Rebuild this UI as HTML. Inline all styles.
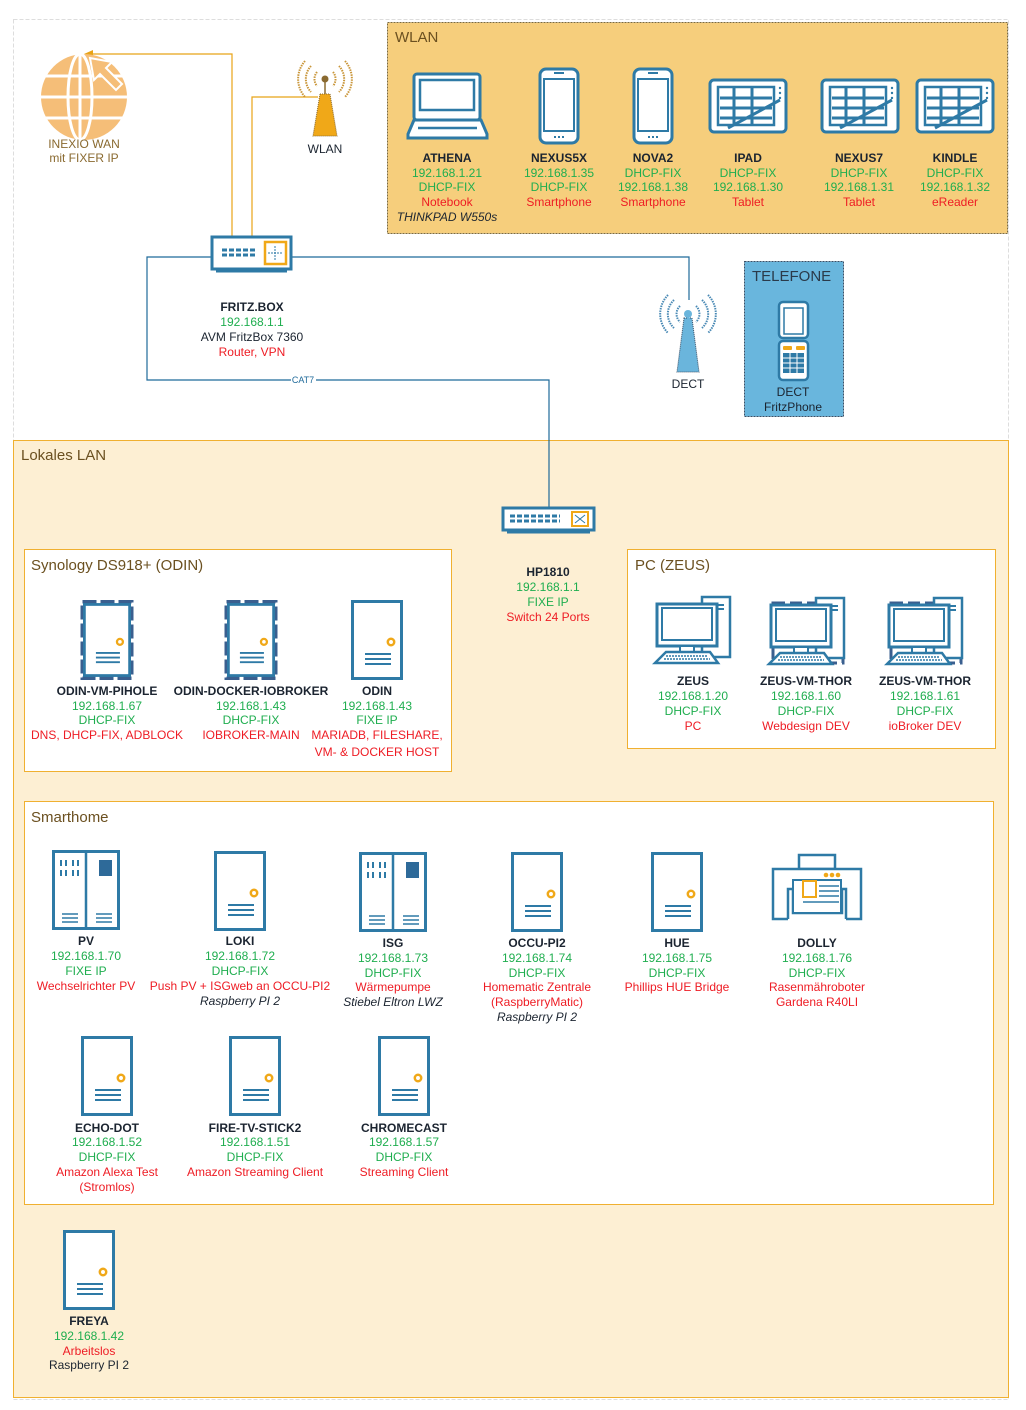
<!DOCTYPE html>
<html><head><meta charset="utf-8"><style>
html,body{margin:0;padding:0;background:#fff}
svg{display:block}
text{font-family:"Liberation Sans",sans-serif;font-size:12px;text-anchor:middle}
.b{font-weight:bold;fill:#1b2430}
.g{fill:#1fae4f}
.r{fill:#ee1c24}
.k{fill:#1b2430}
.i{font-style:italic;fill:#1b2430}
.t{text-anchor:start;font-size:15px;fill:#6b5020}
</style></head><body>
<svg width="1026" height="1410" viewBox="0 0 1026 1410" xmlns="http://www.w3.org/2000/svg">
<defs>
<symbol id="srv" viewBox="0 0 52 80"><rect x="1.5" y="1.5" width="49" height="77" fill="#fff" stroke="#2e7aa6" stroke-width="3"/><circle cx="40" cy="42" r="3.2" fill="#fff" stroke="#f0a818" stroke-width="2.5"/><path d="M14 54h26M14 59h26M14 64h26" stroke="#2e7aa6" stroke-width="2"/></symbol>
<symbol id="dsrv" viewBox="0 0 68 80"><rect x="1.5" y="1.5" width="65" height="77" fill="#fff" stroke="#2e7aa6" stroke-width="3"/><path d="M34 2v77" stroke="#2e7aa6" stroke-width="2.5"/><path d="M9 10v6M14 10v6M21 10v6M26 10v6M9 20v6M14 20v6M21 20v6M26 20v6" stroke="#2e7aa6" stroke-width="2"/><rect x="47" y="10" width="13" height="16" fill="#2e6a99"/><path d="M10 64h16M10 68h16M10 72h16M44 64h16M44 68h16M44 72h16" stroke="#2e7aa6" stroke-width="1.5"/></symbol>
<symbol id="pc" viewBox="0 0 82 70"><rect x="50" y="2" width="28" height="60" fill="#fff" stroke="#2e7aa6" stroke-width="2.5"/><path d="M66 10h6M66 14h6" stroke="#2e7aa6" stroke-width="2"/><rect x="5" y="9" width="60" height="42" fill="#fff" stroke="#2e7aa6" stroke-width="3"/><rect x="10" y="13" width="50" height="32" fill="#fff" stroke="#2e7aa6" stroke-width="2"/><rect x="28" y="51" width="14" height="6" fill="#fff" stroke="#2e7aa6" stroke-width="2"/><path d="M14 57h44l8 11H3z" fill="#fff" stroke="#2e7aa6" stroke-width="2.5"/><path d="M14 61h42M12 64h46" stroke="#2e7aa6" stroke-width="1.5" stroke-dasharray="2 1"/></symbol>
<symbol id="tab" viewBox="0 0 80 56"><rect x="2" y="2" width="76" height="52" rx="4" fill="#fff" stroke="#2e7aa6" stroke-width="3"/><rect x="10" y="9" width="56" height="38" fill="#fff" stroke="#2e7aa6" stroke-width="2.5"/><path d="M12 20h52M12 30h52M12 40h52M26 10v36M44 10v36" stroke="#2e7aa6" stroke-width="3"/><path d="M20 50L72 22" stroke="#2e7aa6" stroke-width="3"/><circle cx="72" cy="10" r="1.2" fill="#2e7aa6"/><circle cx="72" cy="15" r="1.2" fill="#2e7aa6"/><circle cx="72" cy="20" r="1.2" fill="#2e7aa6"/></symbol>
<symbol id="ph" viewBox="0 0 42 78"><rect x="2" y="2" width="38" height="74" rx="6" fill="#fff" stroke="#2e7aa6" stroke-width="3"/><rect x="6" y="12" width="30" height="52" fill="#fff" stroke="#2e7aa6" stroke-width="2"/><path d="M16 6h10" stroke="#2e7aa6" stroke-width="2"/><path d="M16 70h2M20 70h2M24 70h2" stroke="#2e7aa6" stroke-width="2"/></symbol>
<symbol id="vm" viewBox="0 0 52 80"><rect x="1.5" y="1.5" width="49" height="77" fill="none" stroke="#3a5f8f" stroke-width="4" stroke-dasharray="14 4"/></symbol>
</defs>

<!-- outer -->
<rect x="13.5" y="19.5" width="995" height="1380" fill="#fff" stroke="#ddd" stroke-dasharray="4 2"/>
<!-- LAN -->
<rect x="13.5" y="440.5" width="995" height="957" fill="#fdefd3" stroke="#f0b030"/>
<text class="t" x="21" y="460">Lokales LAN</text>
<!-- WLAN box -->
<rect x="387.5" y="22.5" width="620" height="211" fill="#f6ce7c" stroke="#7a6a40" stroke-dasharray="2 1"/>
<text class="t" x="395" y="42">WLAN</text>
<!-- TELEFONE -->
<rect x="744.5" y="261.5" width="99" height="155" fill="#69b6dd" stroke="#3a4f66" stroke-dasharray="2 1"/>
<text class="t" x="752" y="281" style="fill:#2a3a4a">TELEFONE</text>
<!-- groups -->
<rect x="24.5" y="549.5" width="427" height="222" fill="#fff" stroke="#f0b030"/>
<text class="t" x="31" y="570">Synology DS918+ (ODIN)</text>
<rect x="627.5" y="549.5" width="368" height="199" fill="#fff" stroke="#f0b030"/>
<text class="t" x="635" y="570">PC (ZEUS)</text>
<rect x="24.5" y="801.5" width="969" height="403" fill="#fff" stroke="#f0b030"/>
<text class="t" x="31" y="822">Smarthome</text>

<!-- connectors -->
<path d="M232 237V54H92" fill="none" stroke="#e8a317" stroke-width="1.2"/>
<path d="M84 54l9 -4v8z" fill="#e8a317"/>
<path d="M252 237V97H318" fill="none" stroke="#e8a317" stroke-width="1.2"/>
<path d="M291 257H689V300" fill="none" stroke="#1f6a9a" stroke-width="1.2"/>
<path d="M212 257H147V380H549V508" fill="none" stroke="#1f6a9a" stroke-width="1.2"/>
<rect x="291" y="375" width="25" height="10" fill="#fff"/>
<text x="303" y="383" style="font-size:9px;fill:#1f6a9a">CAT7</text>

<!-- globe -->
<g fill="#f5be78">
<circle cx="84" cy="97" r="43"/>
</g>
<g stroke="#fff" stroke-width="3" fill="none">
<ellipse cx="80" cy="97" rx="12" ry="43"/>
<path d="M80 54v86M42 76h84M40 97h88M42 118h84"/>
</g>
<path d="M90 58l4 22 6-6 16 16 6-6-16-16 6-6z" fill="#f5be78" stroke="#fff" stroke-width="2"/>
<text x="84" y="148" style="fill:#8a6a30">INEXIO WAN</text>
<text x="84" y="162" style="fill:#8a6a30">mit FIXER IP</text>

<!-- WLAN tower -->
<path d="M320 94h10l7 42h-24z" fill="#f0a818" stroke="#8a6a30" stroke-width="1" stroke-dasharray="1 1"/>
<circle cx="325" cy="79" r="3.5" fill="#8a6a30"/><path d="M325 82v12" stroke="#8a6a30" stroke-width="1.5"/>
<g fill="none" stroke="#c9963a" stroke-width="2" stroke-dasharray="1.5 1">
<path d="M317 72a11 11 0 0 0 0 14M333 72a11 11 0 0 1 0 14M311 66a19 19 0 0 0 0 26M339 66a19 19 0 0 1 0 26M305 61a27 27 0 0 0 0 36M345 61a27 27 0 0 1 0 36"/>
</g>
<text class="k" x="325" y="153">WLAN</text>

<!-- DECT tower -->
<path d="M684 318h8l7 54h-22z" fill="#6ab5dc" stroke="#3a4f66" stroke-width="1" stroke-dasharray="1 1"/>
<circle cx="688" cy="314" r="4" fill="#6ab5dc"/><path d="M688 317v5" stroke="#6ab5dc" stroke-width="2"/>
<g fill="none" stroke="#4a8ab5" stroke-width="2" stroke-dasharray="1.5 1">
<path d="M680 306a11 11 0 0 0 0 16M696 306a11 11 0 0 1 0 16M674 300a19 19 0 0 0 0 28M702 300a19 19 0 0 1 0 28M668 295a27 27 0 0 0 0 38M708 295a27 27 0 0 1 0 38"/>
</g>
<text class="k" x="688" y="388">DECT</text>

<!-- DECT phone -->
<rect x="779" y="302" width="29" height="36" rx="4" fill="#fff" stroke="#2e7aa6" stroke-width="2.5"/>
<rect x="784" y="308" width="19" height="26" fill="#fff" stroke="#2e7aa6" stroke-width="1.5"/>
<rect x="779" y="341" width="29" height="39" rx="4" fill="#fff" stroke="#2e7aa6" stroke-width="2.5"/>
<rect x="783" y="346" width="9" height="4" rx="1" fill="#f0a818"/><rect x="796" y="346" width="9" height="4" rx="1" fill="#f0a818"/>
<g fill="#2e7aa6"><rect x="783" y="353" width="21" height="20"/></g>
<path d="M783 358h21M783 363h21M783 368h21M790 353v20M797 353v20" stroke="#fff" stroke-width="1"/>
<text class="k" x="793" y="396">DECT</text>
<text class="k" x="793" y="411">FritzPhone</text>

<!-- fritzbox -->
<rect x="212" y="237" width="79" height="32" fill="#fff" stroke="#2e7aa6" stroke-width="3"/>
<path d="M216 271h71" stroke="#2e7aa6" stroke-width="3"/>
<path d="M222 250h34M222 255h34" stroke="#2e7aa6" stroke-width="3" stroke-dasharray="5 2"/>
<rect x="265" y="242" width="21" height="22" fill="#fff" stroke="#f0a818" stroke-width="2.5"/>
<path d="M275 246v14M268 253h14" stroke="#2e7aa6" stroke-width="1" stroke-dasharray="2 1"/>
<text class="b" x="252" y="311">FRITZ.BOX</text>
<text class="g" x="252" y="326">192.168.1.1</text>
<text class="k" x="252" y="341">AVM FritzBox 7360</text>
<text class="r" x="252" y="356">Router, VPN</text>

<!-- HP switch -->
<rect x="503" y="508" width="91" height="22" fill="#fff" stroke="#2e7aa6" stroke-width="3"/>
<path d="M507 532h83" stroke="#2e7aa6" stroke-width="3"/>
<path d="M510 516h50M510 521h50" stroke="#2e7aa6" stroke-width="3" stroke-dasharray="5 2"/>
<rect x="572" y="512" width="16" height="14" fill="#fff" stroke="#f0a818" stroke-width="2"/>
<path d="M575 515l10 8M585 515l-10 8" stroke="#2e7aa6" stroke-width="1"/>
<text class="b" x="548" y="576">HP1810</text>
<text class="g" x="548" y="591">192.168.1.1</text>
<text class="g" x="548" y="606">FIXE IP</text>
<text class="r" x="548" y="621">Switch 24 Ports</text>

<!-- laptop -->
<rect x="414" y="74" width="66" height="46" rx="3" fill="#fff" stroke="#2e7aa6" stroke-width="3"/>
<rect x="420" y="80" width="54" height="30" fill="#fff" stroke="#2e7aa6" stroke-width="2.5"/>
<path d="M414 120l-6 14v4h79v-4l-6-14z" fill="#fff" stroke="#2e7aa6" stroke-width="3"/>
<path d="M418 128h59" stroke="#2e7aa6" stroke-width="2.5"/>
<text class="b" x="447" y="162">ATHENA</text>
<text class="g" x="447" y="177">192.168.1.21</text>
<text class="g" x="447" y="191">DHCP-FIX</text>
<text class="r" x="447" y="206">Notebook</text>
<text class="i" x="447" y="221">THINKPAD W550s</text>

<use href="#ph" x="538" y="67" width="42" height="78"/>
<text class="b" x="559" y="162">NEXUS5X</text>
<text class="g" x="559" y="177">192.168.1.35</text>
<text class="g" x="559" y="191">DHCP-FIX</text>
<text class="r" x="559" y="206">Smartphone</text>

<use href="#ph" x="632" y="67" width="42" height="78"/>
<text class="b" x="653" y="162">NOVA2</text>
<text class="g" x="653" y="177">DHCP-FIX</text>
<text class="g" x="653" y="191">192.168.1.38</text>
<text class="r" x="653" y="206">Smartphone</text>

<use href="#tab" x="708" y="78" width="80" height="56"/>
<text class="b" x="748" y="162">IPAD</text>
<text class="g" x="748" y="177">DHCP-FIX</text>
<text class="g" x="748" y="191">192.168.1.30</text>
<text class="r" x="748" y="206">Tablet</text>

<use href="#tab" x="820" y="78" width="80" height="56"/>
<text class="b" x="859" y="162">NEXUS7</text>
<text class="g" x="859" y="177">DHCP-FIX</text>
<text class="g" x="859" y="191">192.168.1.31</text>
<text class="r" x="859" y="206">Tablet</text>

<use href="#tab" x="915" y="78" width="80" height="56"/>
<text class="b" x="955" y="162">KINDLE</text>
<text class="g" x="955" y="177">DHCP-FIX</text>
<text class="g" x="955" y="191">192.168.1.32</text>
<text class="r" x="955" y="206">eReader</text>

<!-- Synology -->
<use href="#vm" x="80" y="600" width="54" height="80"/>
<use href="#srv" x="83" y="603" width="48" height="74"/>
<text class="b" x="107" y="695">ODIN-VM-PIHOLE</text>
<text class="g" x="107" y="710">192.168.1.67</text>
<text class="g" x="107" y="724">DHCP-FIX</text>
<text class="r" x="107" y="739">DNS, DHCP-FIX, ADBLOCK</text>

<use href="#vm" x="224" y="600" width="54" height="80"/>
<use href="#srv" x="227" y="603" width="48" height="74"/>
<text class="b" x="251" y="695">ODIN-DOCKER-IOBROKER</text>
<text class="g" x="251" y="710">192.168.1.43</text>
<text class="g" x="251" y="724">DHCP-FIX</text>
<text class="r" x="251" y="739">IOBROKER-MAIN</text>

<use href="#srv" x="351" y="600" width="52" height="80"/>
<text class="b" x="377" y="695">ODIN</text>
<text class="g" x="377" y="710">192.168.1.43</text>
<text class="g" x="377" y="724">FIXE IP</text>
<text class="r" x="377" y="739">MARIADB, FILESHARE,</text>
<text class="r" x="377" y="756">VM- &amp; DOCKER HOST</text>

<!-- PCs -->
<use href="#pc" x="652" y="595" width="82" height="70"/>
<text class="b" x="693" y="685">ZEUS</text>
<text class="g" x="693" y="700">192.168.1.20</text>
<text class="g" x="693" y="715">DHCP-FIX</text>
<text class="r" x="693" y="730">PC</text>

<rect x="773" y="603" width="70" height="60" fill="none" stroke="#3a5f8f" stroke-width="3" stroke-dasharray="12 5"/>
<use href="#pc" x="766" y="596" width="82" height="70"/>
<text class="b" x="806" y="685">ZEUS-VM-THOR</text>
<text class="g" x="806" y="700">192.168.1.60</text>
<text class="g" x="806" y="715">DHCP-FIX</text>
<text class="r" x="806" y="730">Webdesign DEV</text>

<rect x="891" y="603" width="70" height="60" fill="none" stroke="#3a5f8f" stroke-width="3" stroke-dasharray="12 5"/>
<use href="#pc" x="884" y="596" width="82" height="70"/>
<text class="b" x="925" y="685">ZEUS-VM-THOR</text>
<text class="g" x="925" y="700">192.168.1.61</text>
<text class="g" x="925" y="715">DHCP-FIX</text>
<text class="r" x="925" y="730">ioBroker DEV</text>

<!-- Smarthome -->
<use href="#dsrv" x="52" y="850" width="68" height="80"/>
<text class="b" x="86" y="945">PV</text>
<text class="g" x="86" y="960">192.168.1.70</text>
<text class="g" x="86" y="975">FIXE IP</text>
<text class="r" x="86" y="990">Wechselrichter PV</text>

<use href="#srv" x="214" y="851" width="52" height="80"/>
<text class="b" x="240" y="945">LOKI</text>
<text class="g" x="240" y="960">192.168.1.72</text>
<text class="g" x="240" y="975">DHCP-FIX</text>
<text class="r" x="240" y="990">Push PV + ISGweb an OCCU-PI2</text>
<text class="i" x="240" y="1005">Raspberry PI 2</text>

<use href="#dsrv" x="359" y="852" width="68" height="80"/>
<text class="b" x="393" y="947">ISG</text>
<text class="g" x="393" y="962">192.168.1.73</text>
<text class="g" x="393" y="977">DHCP-FIX</text>
<text class="r" x="393" y="991">Wärmepumpe</text>
<text class="i" x="393" y="1006">Stiebel Eltron LWZ</text>

<use href="#srv" x="511" y="852" width="52" height="80"/>
<text class="b" x="537" y="947">OCCU-PI2</text>
<text class="g" x="537" y="962">192.168.1.74</text>
<text class="g" x="537" y="977">DHCP-FIX</text>
<text class="r" x="537" y="991">Homematic Zentrale</text>
<text class="r" x="537" y="1006">(RaspberryMatic)</text>
<text class="i" x="537" y="1021">Raspberry PI 2</text>

<use href="#srv" x="651" y="852" width="52" height="80"/>
<text class="b" x="677" y="947">HUE</text>
<text class="g" x="677" y="962">192.168.1.75</text>
<text class="g" x="677" y="977">DHCP-FIX</text>
<text class="r" x="677" y="991">Phillips HUE Bridge</text>

<!-- printer -->
<rect x="799" y="855" width="36" height="14" fill="#fff" stroke="#2e7aa6" stroke-width="2.5"/>
<path d="M788 919h-15v-50h88v50h-15" fill="#fff" stroke="#2e7aa6" stroke-width="2.5"/>
<path d="M788 919v-30h5v24h49v-24h4v30" fill="none" stroke="#2e7aa6" stroke-width="2.5"/>
<path d="M793 880h48" stroke="#2e7aa6" stroke-width="2"/>
<rect x="793" y="880" width="48" height="33" fill="#fff" stroke="#2e7aa6" stroke-width="2"/>
<rect x="803" y="881" width="13" height="16" fill="#fff" stroke="#f0a818" stroke-width="2"/>
<path d="M819 886h20M819 891h20M819 896h20M803 902h36" stroke="#2e7aa6" stroke-width="1.5"/>
<circle cx="826" cy="875" r="2.3" fill="#f0a818"/><circle cx="832" cy="875" r="2.3" fill="#f0a818"/><circle cx="838" cy="875" r="2.3" fill="#f0a818"/>
<text class="b" x="817" y="947">DOLLY</text>
<text class="g" x="817" y="962">192.168.1.76</text>
<text class="g" x="817" y="977">DHCP-FIX</text>
<text class="r" x="817" y="991">Rasenmähroboter</text>
<text class="r" x="817" y="1006">Gardena R40LI</text>

<use href="#srv" x="81" y="1036" width="52" height="80"/>
<text class="b" x="107" y="1132">ECHO-DOT</text>
<text class="g" x="107" y="1146">192.168.1.52</text>
<text class="g" x="107" y="1161">DHCP-FIX</text>
<text class="r" x="107" y="1176">Amazon Alexa Test</text>
<text class="r" x="107" y="1191">(Stromlos)</text>

<use href="#srv" x="229" y="1036" width="52" height="80"/>
<text class="b" x="255" y="1132">FIRE-TV-STICK2</text>
<text class="g" x="255" y="1146">192.168.1.51</text>
<text class="g" x="255" y="1161">DHCP-FIX</text>
<text class="r" x="255" y="1176">Amazon Streaming Client</text>

<use href="#srv" x="378" y="1036" width="52" height="80"/>
<text class="b" x="404" y="1132">CHROMECAST</text>
<text class="g" x="404" y="1146">192.168.1.57</text>
<text class="g" x="404" y="1161">DHCP-FIX</text>
<text class="r" x="404" y="1176">Streaming Client</text>

<use href="#srv" x="63" y="1230" width="52" height="80"/>
<text class="b" x="89" y="1325">FREYA</text>
<text class="g" x="89" y="1340">192.168.1.42</text>
<text class="r" x="89" y="1355">Arbeitslos</text>
<text class="k" x="89" y="1369">Raspberry PI 2</text>
</svg>
</body></html>
